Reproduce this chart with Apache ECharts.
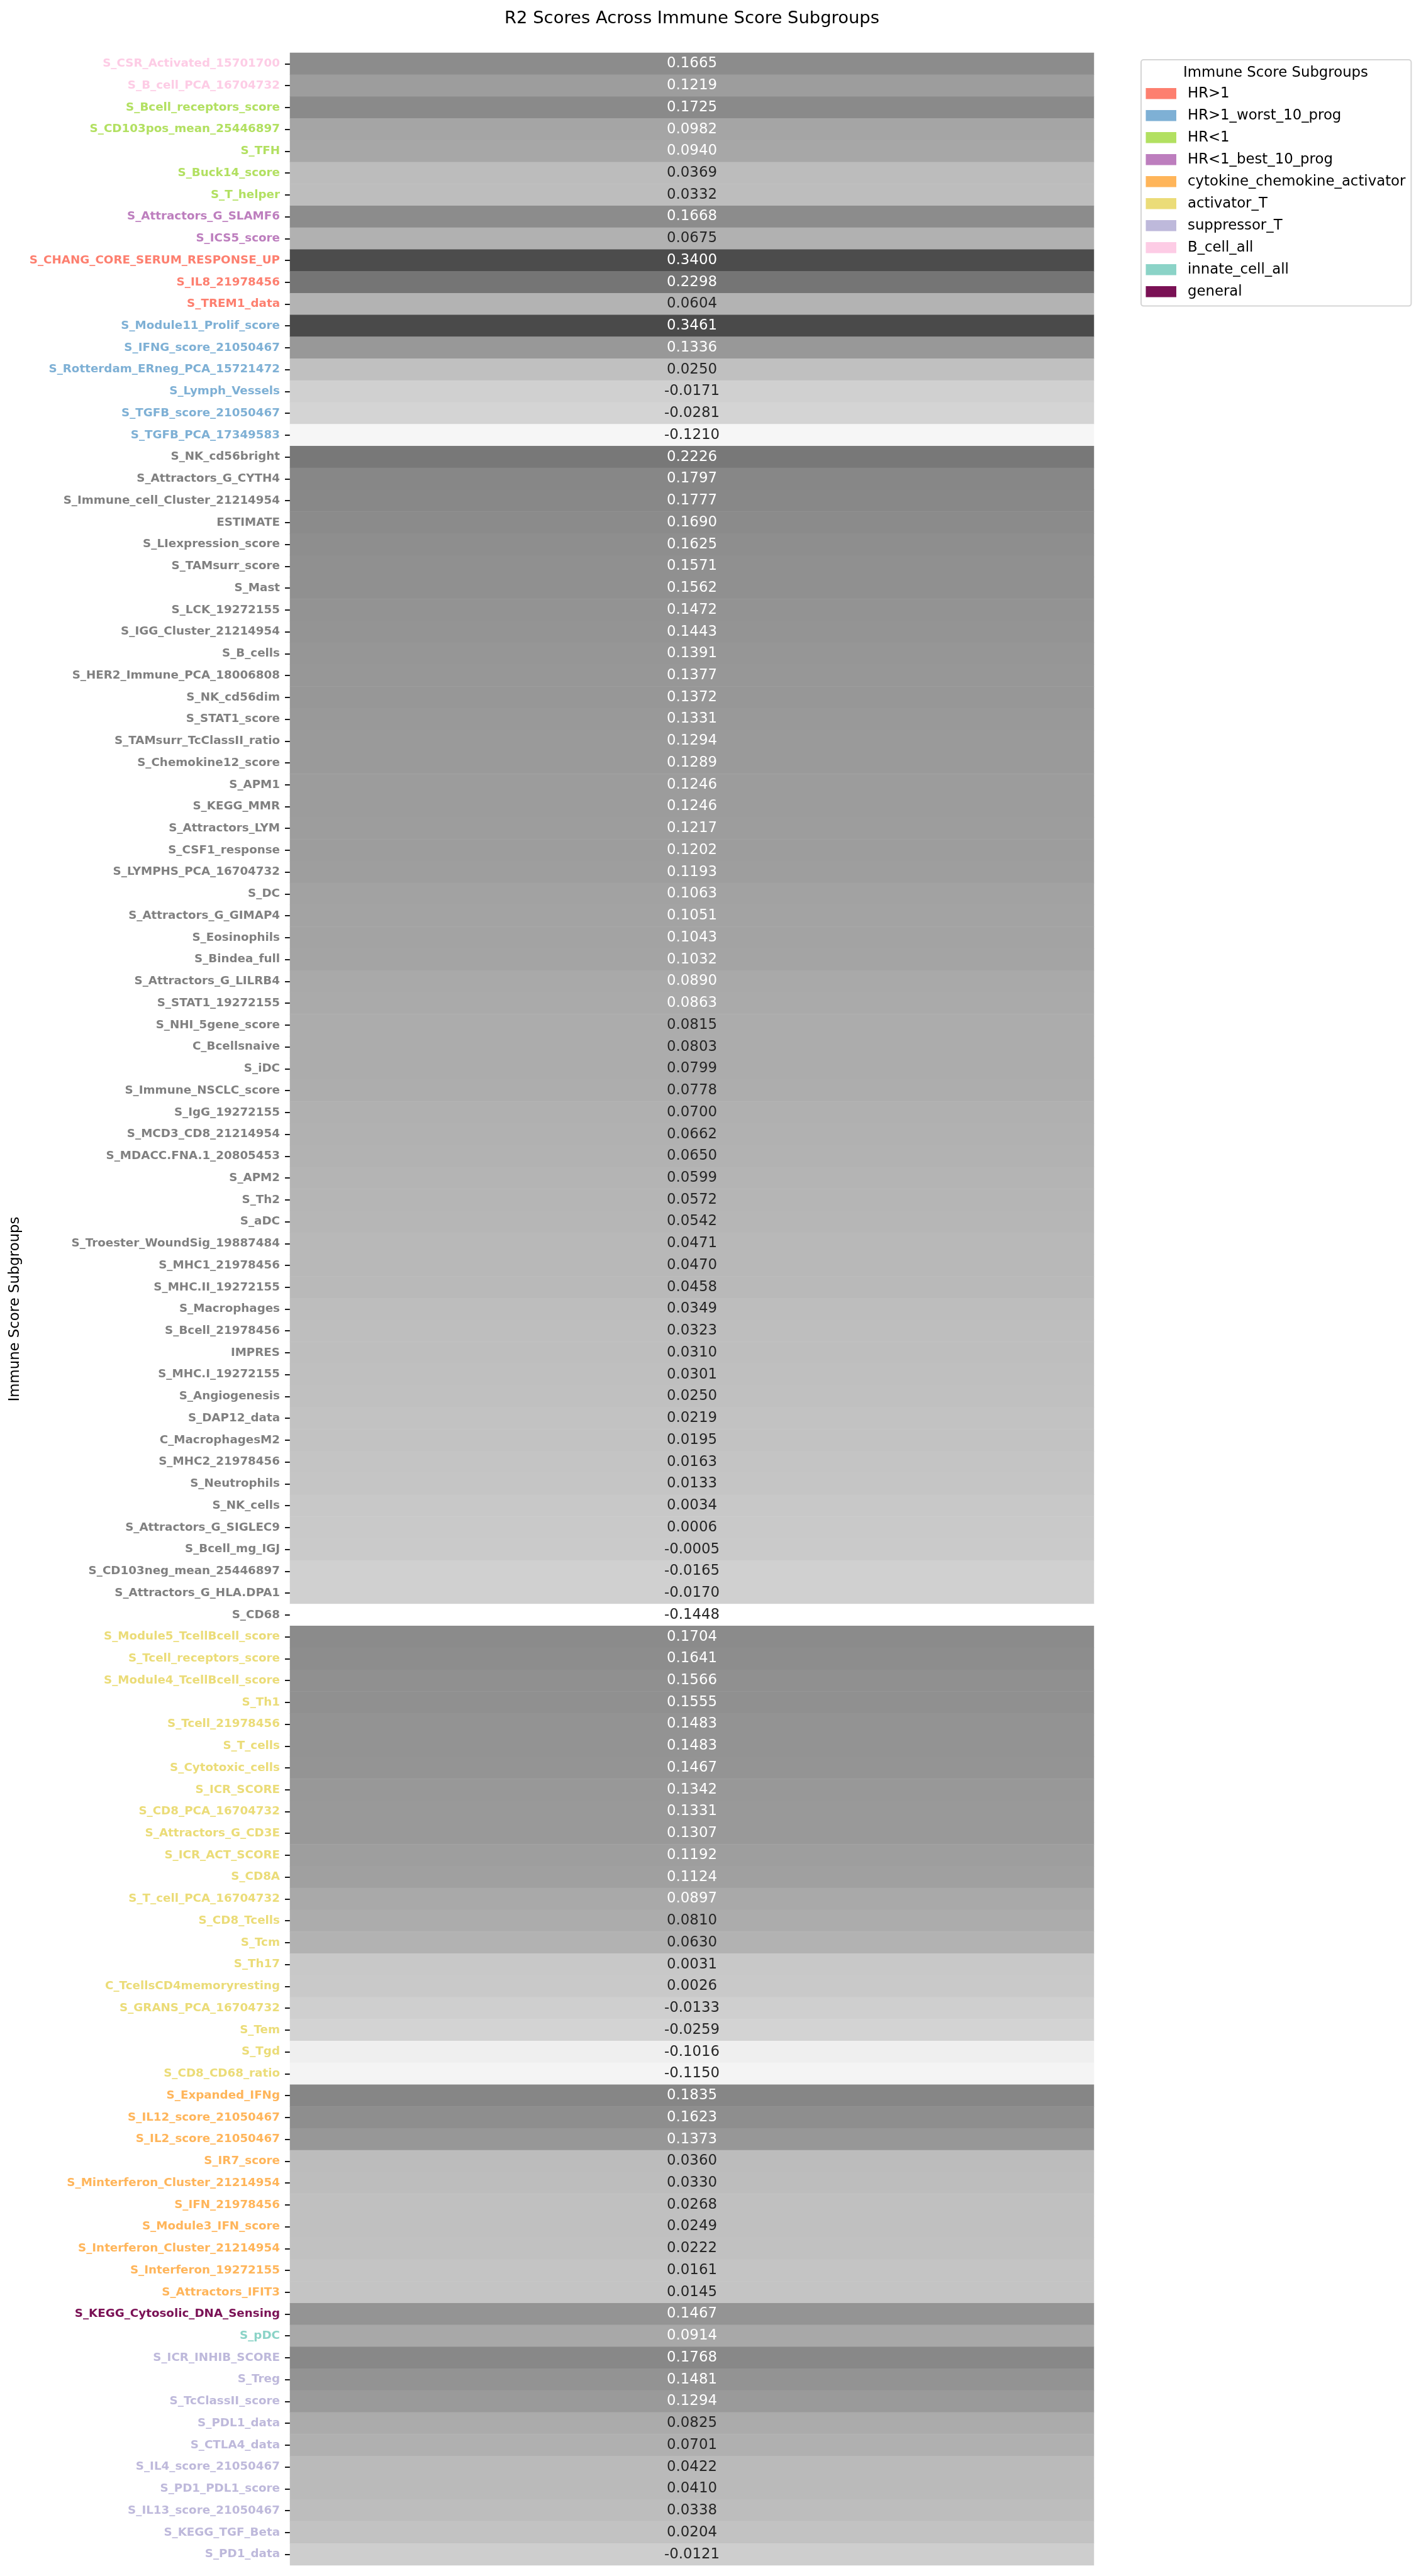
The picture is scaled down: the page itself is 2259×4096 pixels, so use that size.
<!DOCTYPE html>
<html><head><meta charset="utf-8">
<script src="https://cdn.jsdelivr.net/npm/echarts@6/dist/echarts.min.js"></script>
<style>html,body{margin:0;padding:0;background:#fff}#c{width:2259px;height:4096px}</style>
</head><body><div id="c"></div>
<script>
// ---- data (top to bottom) ----
const bCellAllLabels = ['S_CSR_Activated_15701700', 'S_B_cell_PCA_16704732'];
const bCellAllValues = [0.1665, 0.1219];

const hrLt1Labels = ['S_Bcell_receptors_score', 'S_CD103pos_mean_25446897', 'S_TFH', 'S_Buck14_score', 'S_T_helper'];
const hrLt1Values = [0.1725, 0.0982, 0.0940, 0.0369, 0.0332];

const hrLt1BestLabels = ['S_Attractors_G_SLAMF6', 'S_ICS5_score'];
const hrLt1BestValues = [0.1668, 0.0675];

const hrGt1Labels = ['S_CHANG_CORE_SERUM_RESPONSE_UP', 'S_IL8_21978456', 'S_TREM1_data'];
const hrGt1Values = [0.3400, 0.2298, 0.0604];

const hrGt1WorstLabels = ['S_Module11_Prolif_score', 'S_IFNG_score_21050467', 'S_Rotterdam_ERneg_PCA_15721472',
  'S_Lymph_Vessels', 'S_TGFB_score_21050467', 'S_TGFB_PCA_17349583'];
const hrGt1WorstValues = [0.3461, 0.1336, 0.0250, -0.0171, -0.0281, -0.1210];

const otherLabels = ['S_NK_cd56bright', 'S_Attractors_G_CYTH4', 'S_Immune_cell_Cluster_21214954', 'ESTIMATE',
  'S_LIexpression_score', 'S_TAMsurr_score', 'S_Mast', 'S_LCK_19272155', 'S_IGG_Cluster_21214954', 'S_B_cells',
  'S_HER2_Immune_PCA_18006808', 'S_NK_cd56dim', 'S_STAT1_score', 'S_TAMsurr_TcClassII_ratio', 'S_Chemokine12_score',
  'S_APM1', 'S_KEGG_MMR', 'S_Attractors_LYM', 'S_CSF1_response', 'S_LYMPHS_PCA_16704732', 'S_DC',
  'S_Attractors_G_GIMAP4', 'S_Eosinophils', 'S_Bindea_full', 'S_Attractors_G_LILRB4', 'S_STAT1_19272155',
  'S_NHI_5gene_score', 'C_Bcellsnaive', 'S_iDC', 'S_Immune_NSCLC_score', 'S_IgG_19272155', 'S_MCD3_CD8_21214954',
  'S_MDACC.FNA.1_20805453', 'S_APM2', 'S_Th2', 'S_aDC', 'S_Troester_WoundSig_19887484', 'S_MHC1_21978456',
  'S_MHC.II_19272155', 'S_Macrophages', 'S_Bcell_21978456', 'IMPRES', 'S_MHC.I_19272155', 'S_Angiogenesis',
  'S_DAP12_data', 'C_MacrophagesM2', 'S_MHC2_21978456', 'S_Neutrophils', 'S_NK_cells', 'S_Attractors_G_SIGLEC9',
  'S_Bcell_mg_IGJ', 'S_CD103neg_mean_25446897', 'S_Attractors_G_HLA.DPA1', 'S_CD68'];
const otherValues = [0.2226, 0.1797, 0.1777, 0.1690, 0.1625, 0.1571, 0.1562, 0.1472, 0.1443, 0.1391,
  0.1377, 0.1372, 0.1331, 0.1294, 0.1289, 0.1246, 0.1246, 0.1217, 0.1202, 0.1193, 0.1063,
  0.1051, 0.1043, 0.1032, 0.0890, 0.0863, 0.0815, 0.0803, 0.0799, 0.0778, 0.0700, 0.0662,
  0.0650, 0.0599, 0.0572, 0.0542, 0.0471, 0.0470, 0.0458, 0.0349, 0.0323, 0.0310, 0.0301, 0.0250,
  0.0219, 0.0195, 0.0163, 0.0133, 0.0034, 0.0006, -0.0005, -0.0165, -0.0170, -0.1448];

const activatorTLabels = ['S_Module5_TcellBcell_score', 'S_Tcell_receptors_score', 'S_Module4_TcellBcell_score',
  'S_Th1', 'S_Tcell_21978456', 'S_T_cells', 'S_Cytotoxic_cells', 'S_ICR_SCORE', 'S_CD8_PCA_16704732',
  'S_Attractors_G_CD3E', 'S_ICR_ACT_SCORE', 'S_CD8A', 'S_T_cell_PCA_16704732', 'S_CD8_Tcells', 'S_Tcm',
  'S_Th17', 'C_TcellsCD4memoryresting', 'S_GRANS_PCA_16704732', 'S_Tem', 'S_Tgd', 'S_CD8_CD68_ratio'];
const activatorTValues = [0.1704, 0.1641, 0.1566, 0.1555, 0.1483, 0.1483, 0.1467, 0.1342, 0.1331,
  0.1307, 0.1192, 0.1124, 0.0897, 0.0810, 0.0630, 0.0031, 0.0026, -0.0133, -0.0259, -0.1016, -0.1150];

const cytokineLabels = ['S_Expanded_IFNg', 'S_IL12_score_21050467', 'S_IL2_score_21050467', 'S_IR7_score',
  'S_Minterferon_Cluster_21214954', 'S_IFN_21978456', 'S_Module3_IFN_score', 'S_Interferon_Cluster_21214954',
  'S_Interferon_19272155', 'S_Attractors_IFIT3'];
const cytokineValues = [0.1835, 0.1623, 0.1373, 0.0360, 0.0330, 0.0268, 0.0249, 0.0222, 0.0161, 0.0145];

const generalLabels = ['S_KEGG_Cytosolic_DNA_Sensing'];
const generalValues = [0.1467];

const innateLabels = ['S_pDC'];
const innateValues = [0.0914];

const suppressorTLabels = ['S_ICR_INHIB_SCORE', 'S_Treg', 'S_TcClassII_score', 'S_PDL1_data', 'S_CTLA4_data',
  'S_IL4_score_21050467', 'S_PD1_PDL1_score', 'S_IL13_score_21050467', 'S_KEGG_TGF_Beta', 'S_PD1_data'];
const suppressorTValues = [0.1768, 0.1481, 0.1294, 0.0825, 0.0701, 0.0422, 0.0410, 0.0338, 0.0204, -0.0121];

const legendGroups = ['HR>1', 'HR>1_worst_10_prog', 'HR<1', 'HR<1_best_10_prog', 'cytokine_chemokine_activator',
  'activator_T', 'suppressor_T', 'B_cell_all', 'innate_cell_all', 'general'];

// ---- styling ----
const groupColors = {
  'HR>1': '#fd7f6f', 'HR>1_worst_10_prog': '#7eb0d5', 'HR<1': '#b2e061', 'HR<1_best_10_prog': '#bd7ebe',
  'cytokine_chemokine_activator': '#ffb55a', 'activator_T': '#ebdc78', 'suppressor_T': '#beb9db',
  'B_cell_all': '#fdcce5', 'innate_cell_all': '#8bd3c7', 'general': '#7a1155', 'none': '#808080'
};
const blocks = [
  [bCellAllLabels, bCellAllValues, 'B_cell_all'],
  [hrLt1Labels, hrLt1Values, 'HR<1'],
  [hrLt1BestLabels, hrLt1BestValues, 'HR<1_best_10_prog'],
  [hrGt1Labels, hrGt1Values, 'HR>1'],
  [hrGt1WorstLabels, hrGt1WorstValues, 'HR>1_worst_10_prog'],
  [otherLabels, otherValues, 'none'],
  [activatorTLabels, activatorTValues, 'activator_T'],
  [cytokineLabels, cytokineValues, 'cytokine_chemokine_activator'],
  [generalLabels, generalValues, 'general'],
  [innateLabels, innateValues, 'innate_cell_all'],
  [suppressorTLabels, suppressorTValues, 'suppressor_T']
];

const rowLabels = [], rowValues = [], rowColors = [];
blocks.forEach(([labs, vals, g]) => {
  labs.forEach((l, i) => { rowLabels.push(l); rowValues.push(vals[i]); rowColors.push(groupColors[g]); });
});
const vMin = Math.min(...rowValues), vMax = Math.max(...rowValues);
const whiteTextAbove = 0.084;

const heatData = rowValues.map((v, i) => ({
  value: [0, i, v],
  label: { color: v > whiteTextAbove ? '#ffffff' : '#262626' }
}));

const FONT = 'DejaVu Sans';
const gridLeft = 461, gridTop = 84, gridRight = 1739, gridBottom = 4079;

const chart = echarts.init(document.getElementById('c'), null, { renderer: 'canvas' });
const series = [{
  type: 'heatmap',
  data: heatData,
  label: {
    show: true, fontFamily: FONT, fontSize: 22.8,
    formatter: p => p.value[2].toFixed(4)
  },
  itemStyle: { borderWidth: 0 },
  emphasis: { disabled: true }
}];
legendGroups.forEach(g => series.push({ type: 'line', name: g, data: [], color: groupColors[g], itemStyle: { color: groupColors[g] } }));

chart.setOption({
  animation: false,
  backgroundColor: '#ffffff',
  grid: { left: gridLeft, top: gridTop, width: gridRight - gridLeft, height: gridBottom - gridTop, containLabel: false },
  xAxis: { type: 'category', data: ['R2'], show: false },
  yAxis: {
    type: 'category', data: rowLabels, inverse: true,
    name: 'Immune Score Subgroups', nameLocation: 'middle', nameRotate: 90, nameGap: 425,
    nameTextStyle: { fontFamily: FONT, fontSize: 22.8, color: '#000' },
    axisLine: { show: false },
    axisTick: { show: true, alignWithLabel: true, interval: 0, length: 8, lineStyle: { color: '#000', width: 1.8 } },
    axisLabel: {
      interval: 0, margin: 16, fontFamily: FONT, fontWeight: 'bold', fontSize: 18.3,
      color: (val, idx) => rowColors[idx]
    },
    splitLine: { show: false }
  },
  visualMap: {
    type: 'continuous', show: false, seriesIndex: 0, dimension: 2,
    min: vMin, max: vMax, inRange: { color: ['#ffffff', '#4a4a4a'] }
  },
  legend: {
    orient: 'vertical', left: 1814, top: 95,
    selectedMode: false,
    data: legendGroups.map(g => ({ name: g, icon: 'rect', itemStyle: { color: groupColors[g] } })),
    itemWidth: 48.5, itemHeight: 17.5, itemGap: 12,
    padding: [42.3, 9, 11.3, 7.5],
    borderColor: '#d5d5d5', borderWidth: 2, borderRadius: 4,
    textStyle: { fontFamily: FONT, fontSize: 22.8, color: '#000', lineHeight: 23, padding: [0, 0, 0, 13] }
  },
  graphic: [
    { type: 'text', x: (gridLeft + gridRight) / 2, y: 30,
      style: { text: 'R2 Scores Across Immune Score Subgroups', font: '27.4px "DejaVu Sans"', fill: '#000',
        textAlign: 'center', textVerticalAlign: 'middle' } },
    { type: 'text', x: 2028, y: 116,
      style: { text: 'Immune Score Subgroups', font: '22.8px "DejaVu Sans"', fill: '#000',
        textAlign: 'center', textVerticalAlign: 'middle' } }
  ],
  series: series
});
</script></body></html>
